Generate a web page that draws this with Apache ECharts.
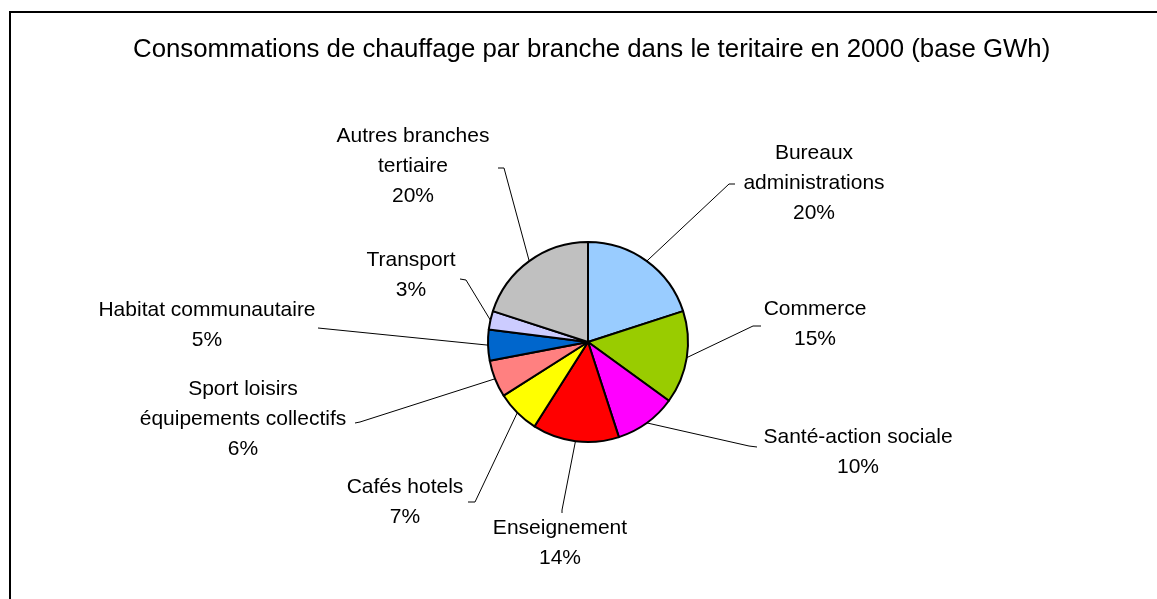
<!DOCTYPE html>
<html>
<head>
<meta charset="utf-8">
<script src="https://cdn.jsdelivr.net/npm/echarts@6/dist/echarts.min.js"></script>
<style>
  html, body { margin: 0; padding: 0; background: #fff; }
  #main { width: 1157px; height: 599px; }
</style>
</head>
<body>
<div id="main"></div>
<script>
// branches (in clockwise order from the top)
var branches = [
    'Bureaux\nadministrations',
    'Commerce',
    'Santé-action sociale',
    'Enseignement',
    'Cafés hotels',
    'Sport loisirs\néquipements collectifs',
    'Habitat communautaire',
    'Transport',
    'Autres branches\ntertiaire'
];
// share of heating consumption, %
var shares = [20, 15, 10, 14, 7, 6, 5, 3, 20];
var colors = ['#99CCFF', '#99CC00', '#FF00FF', '#FF0000', '#FFFF00', '#FF8080', '#0066CC', '#CCCCFF', '#C0C0C0'];

// where each label sits (centre of the text block) and where its leader line bends / ends
var labelPos = [[814, 183], [815, 324], [858, 452], [560, 543], [405, 502], [243, 419], [207, 325], [411, 275], [413, 166]];
var lineBend = [[729, 184], [753, 326], [749, 446], [562, 510], [475, 502], [360, 422], [318, 328], [466, 280], [504, 168]];
var lineEnd  = [[735, 184], [761, 326], [757, 447], [562, 513], [468, 502], [355, 423], [318, 328], [460, 279], [498, 168]];

var myChart = echarts.init(document.getElementById('main'));

var pieData = [];
for (var i = 0; i < branches.length; i++) {
    pieData.push({ name: branches[i], value: shares[i], itemStyle: { color: colors[i] } });
}

myChart.setOption({
    animation: false,
    backgroundColor: '#fff',
    textStyle: { fontFamily: 'Liberation Sans, Arial, sans-serif' },
    title: {
        text: 'Consommations de chauffage par branche dans le teritaire en 2000 (base GWh)',
        left: 128,
        top: 32,
        textStyle: { fontFamily: 'Liberation Sans', fontSize: 25.8, fontWeight: 'normal', color: '#000' }
    },
    graphic: [{
        type: 'rect',
        shape: { x: 10, y: 12, width: 1200, height: 700 },
        style: { fill: 'none', stroke: '#000', lineWidth: 2 },
        silent: true
    }],
    series: [{
        type: 'pie',
        center: [588, 342],
        radius: 100,
        startAngle: 90,
        clockwise: true,
        data: pieData,
        itemStyle: { borderColor: '#000', borderWidth: 2 },
        emphasis: { disabled: true },
        label: {
            show: true,
            formatter: function (p) { return p.name + '\n' + p.value + '%'; },
            fontFamily: 'Liberation Sans',
            fontSize: 21,
            lineHeight: 30,
            color: '#000',
            align: 'center',
            verticalAlign: 'middle'
        },
        labelLine: {
            show: true,
            length: 20,
            length2: 10,
            lineStyle: { color: '#000', width: 1 }
        },
        labelLayout: function (params) {
            var i = params.dataIndex;
            var res = { x: labelPos[i][0], y: labelPos[i][1], align: 'center', verticalAlign: 'middle' };
            if (params.labelLinePoints) {
                res.labelLinePoints = [params.labelLinePoints[0], lineBend[i], lineEnd[i]];
            }
            return res;
        }
    }]
});
</script>
</body>
</html>
